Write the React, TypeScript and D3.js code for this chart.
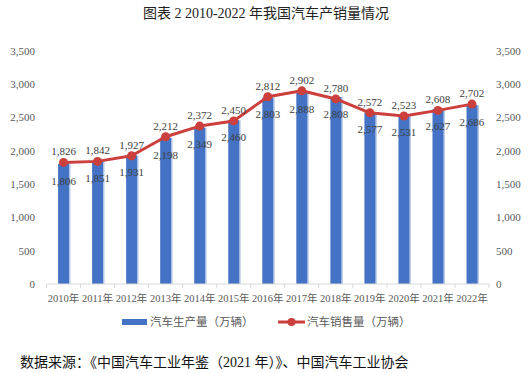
import * as d3 from 'd3';
import * as React from 'react';

const width = 528;
const height = 373;
const margin = { top: 51, right: 39, bottom: 89, left: 46.5 };

const years = ['2010', '2011', '2012', '2013', '2014', '2015', '2016', '2017', '2018', '2019', '2020', '2021', '2022'];
const production = [1806, 1851, 1931, 2198, 2349, 2460, 2803, 2888, 2808, 2577, 2531, 2627, 2686];
const sales = [1826, 1842, 1927, 2212, 2372, 2450, 2812, 2902, 2780, 2572, 2523, 2608, 2702];
const yTicks = [0, 500, 1000, 1500, 2000, 2500, 3000, 3500];

const title = '图表 2 2010-2022 年我国汽车产销量情况';
const legendProd = '汽车生产量（万辆）';
const legendSales = '汽车销售量（万辆）';
const source = '数据来源：《中国汽车工业年鉴（2021 年）》、中国汽车工业协会';

const blue = '#4472c4';
const red = '#cb3f3c';
const gray = '#595959';
const serif = '"Liberation Serif", "Times New Roman", "Noto Sans CJK SC", serif';

export default function App() {
  const x = d3
    .scaleBand<string>()
    .domain(years)
    .range([margin.left, width - margin.right])
    .paddingInner(0.68)
    .paddingOuter(0.34);

  const y = d3
    .scaleLinear()
    .domain([0, 3500])
    .range([height - margin.bottom, margin.top]);

  const fmt = d3.format(',');
  const cx = (i: number) => (x(years[i]) as number) + x.bandwidth() / 2;

  const line = d3
    .line<number>()
    .x((_, i) => cx(i))
    .y(d => y(d));

  const step = x.step();
  const baseY = y(0);

  return (
    <div style={{ position: 'absolute', left: 0, top: 0 }}>
      <svg width={width} height={height} style={{ display: 'block', background: '#fff' }}>
        <text x={266} y={18} textAnchor="middle" fontFamily={serif} fontSize={14} fill="#222">
          {title}
        </text>

        {/* left axis */}
        {yTicks.map(t => (
          <text key={'l' + t} x={35} y={y(t)} dy="0.35em" textAnchor="end" fontFamily={serif} fontSize={11} fill={gray}>
            {fmt(t)}
          </text>
        ))}
        {/* right axis */}
        {yTicks.map(t => (
          <text key={'r' + t} x={496} y={y(t)} dy="0.35em" textAnchor="start" fontFamily={serif} fontSize={11} fill={gray}>
            {fmt(t)}
          </text>
        ))}

        {/* bars */}
        {production.map((v, i) => (
          <g key={'b' + i}>
            <rect x={(x(years[i]) as number) + 1.5} y={y(v)} width={x.bandwidth()} height={baseY - y(v)} fill="#b4c7e7" />
            <rect x={x(years[i]) as number} y={y(v)} width={x.bandwidth()} height={baseY - y(v)} fill={blue} />
          </g>
        ))}

        {/* x axis */}
        <line x1={margin.left} x2={width - margin.right} y1={baseY} y2={baseY} stroke="#d9d9d9" strokeWidth={1} />
        {d3.range(years.length + 1).map(i => {
          const xx = margin.left + i * step;
          return <line key={'t' + i} x1={xx} x2={xx} y1={baseY} y2={baseY + 4} stroke="#d9d9d9" />;
        })}
        {years.map((yr, i) => (
          <text key={'x' + yr} x={cx(i)} y={baseY + 14} dy="0.35em" textAnchor="middle" fontFamily={serif} fontSize={10.5} fill={gray}>
            {yr}年
          </text>
        ))}

        {/* production labels */}
        {production.map((v, i) => (
          <text key={'pl' + i} x={cx(i)} y={y(v) + 17} dy="0.35em" textAnchor="middle" fontFamily={serif} fontSize={11} fill="#404040">
            {fmt(v)}
          </text>
        ))}

        {/* sales line */}
        <path d={line(sales) as string} fill="none" stroke={red} strokeWidth={3} strokeLinejoin="round" />
        {sales.map((v, i) => (
          <circle key={'c' + i} cx={cx(i)} cy={y(v)} r={4.5} fill={red} />
        ))}
        {sales.map((v, i) => (
          <text key={'sl' + i} x={cx(i)} y={y(v) - 11} dy="0.35em" textAnchor="middle" fontFamily={serif} fontSize={11} fill="#404040">
            {fmt(v)}
          </text>
        ))}

        {/* legend */}
        <rect x={122} y={319} width={25} height={6} fill={blue} />
        <text x={150} y={322} dy="0.35em" fontFamily={serif} fontSize={11.5} fill={gray}>
          {legendProd}
        </text>
        <line x1={278} x2={305} y1={322} y2={322} stroke={red} strokeWidth={3} />
        <circle cx={291.5} cy={322} r={4} fill={red} />
        <text x={307} y={322} dy="0.35em" fontFamily={serif} fontSize={11.5} fill={gray}>
          {legendSales}
        </text>

        {/* source */}
        <text x={20} y={362} dy="0.35em" fontFamily={serif} fontSize={14} fill="#111">
          {source}
        </text>
      </svg>
    </div>
  );
}
